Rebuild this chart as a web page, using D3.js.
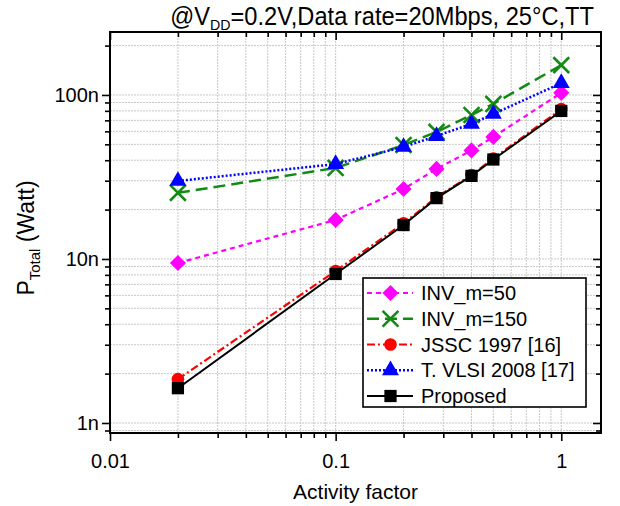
<!DOCTYPE html>
<html>
<head>
<meta charset="utf-8">
<script src="https://cdn.jsdelivr.net/npm/d3@7"></script>
<style>
body{margin:0;background:#fff;}
svg{display:block;font-family:Arial,"Liberation Sans",sans-serif;}
</style>
</head>
<body>
<svg width="620" height="506"></svg>
<script>
// activity factor (x) and total power in nW (y)
var activity = [0.02, 0.1, 0.2, 0.28, 0.4, 0.5, 1];
var inv50    = [9.45, 17.3, 26.7, 35.4, 45.9, 55.5, 103];
var inv150   = [25.3, 35.9, 49.5, 59.5, 75.5, 88.2, 152];
var jssc     = [1.85, 8.45, 16.5, 23.8, 32.5, 41, 82];
var tvlsi    = [29.9, 37.9, 48.2, 56.2, 66.6, 76.6, 118];
var proposed = [1.63, 8.1, 16.1, 23.5, 32.1, 40.4, 79.9];

var names = ["INV_m=50", "INV_m=150", "JSSC 1997 [16]", "T. VLSI 2008 [17]", "Proposed"];
var xTicks = [0.01, 0.1, 1];
var xTickLabels = ["0.01", "0.1", "1"];
var yTicks = [1, 10, 100];
var yTickLabels = ["1n", "10n", "100n"];

/* setup
-------------------------------------------------------------------------------
*/
var svg = d3.select("svg");
var mLeft = 110, mRight = 601, mTop = 32, mBottom = 433;

var x = d3.scaleLog().domain([0.01, 1.5]).range([mLeft, mRight]);
var y = d3.scaleLog().domain([0.869, 242]).range([mBottom, mTop]);

var series = [
    {name: names[0], vals: inv50,    color: "#ff00ff", dash: "5,4",        w: 2.2, mark: "diamond"},
    {name: names[1], vals: inv150,   color: "#138a13", dash: "12,6",       w: 2.5, mark: "times"},
    {name: names[2], vals: jssc,     color: "#ff0000", dash: "8,3,2,3",    w: 2.2, mark: "circle"},
    {name: names[3], vals: tvlsi,    color: "#0000ff", dash: "2,2",        w: 2.5, mark: "triangle"},
    {name: names[4], vals: proposed, color: "#000000", dash: null,         w: 2,   mark: "square"}
];

function symbolPath(m){
    if(m == "diamond") return d3.symbol(d3.symbolSquare, 130)();
    if(m == "times") return d3.symbol(d3.symbolTimes, 165)();
    if(m == "circle") return d3.symbol(d3.symbolCircle, 125)();
    if(m == "triangle") return d3.symbol(d3.symbolTriangle, 125)();
    return d3.symbol(d3.symbolSquare, 150)();
}

function drawMarker(g, s, px, py){
    var p = g.append("path")
        .attr("d", symbolPath(s.mark))
        .attr("transform", "translate(" + px + "," + py + ")" + (s.mark == "diamond" ? " rotate(45)" : ""));
    if(s.mark == "times"){
        p.attr("fill", "none").attr("stroke", s.color).attr("stroke-width", 2.6);
    } else {
        p.attr("fill", s.color);
    }
}

/* grid
-------------------------------------------------------------------------------
*/
var grid = svg.append("g");
grid.selectAll(".vg").data(x.ticks()).enter().append("line")
    .attr("x1", function(d){ return x(d); }).attr("x2", function(d){ return x(d); })
    .attr("y1", mTop).attr("y2", mBottom)
    .attr("stroke", "#c8c8c8").attr("stroke-width", 1).attr("stroke-dasharray", "2,1");
grid.selectAll(".hg").data(y.ticks()).enter().append("line")
    .attr("y1", function(d){ return y(d); }).attr("y2", function(d){ return y(d); })
    .attr("x1", mLeft).attr("x2", mRight)
    .attr("stroke", "#c8c8c8").attr("stroke-width", 1).attr("stroke-dasharray", "2,1");

/* axes
-------------------------------------------------------------------------------
*/
var xMinor = x.ticks().filter(function(d){ return xTicks.indexOf(d) < 0; });
var yMinor = y.ticks().filter(function(d){ return yTicks.indexOf(d) < 0; });

function styleAxis(g){
    g.select(".domain").remove();
    g.selectAll(".tick line").attr("stroke", "#000").attr("stroke-width", 1.6);
    g.selectAll("text").attr("font-size", 20).attr("fill", "#000").attr("font-family", null);
}

svg.append("g").attr("transform", "translate(0," + mBottom + ")")
    .call(d3.axisBottom(x).tickValues(xTicks).tickSize(8).tickPadding(13)
        .tickFormat(function(d, i){ return xTickLabels[i]; }))
    .call(styleAxis);
svg.append("g").attr("transform", "translate(0," + mBottom + ")")
    .call(d3.axisBottom(x).tickValues(xMinor).tickSize(5).tickFormat(""))
    .call(styleAxis);
// mirrored top ticks, pointing inwards
svg.append("g").attr("transform", "translate(0," + mTop + ")")
    .call(d3.axisBottom(x).tickValues(xTicks).tickSize(8).tickFormat(""))
    .call(styleAxis);
svg.append("g").attr("transform", "translate(0," + mTop + ")")
    .call(d3.axisBottom(x).tickValues(xMinor).tickSize(5).tickFormat(""))
    .call(styleAxis);

svg.append("g").attr("transform", "translate(" + mLeft + ",0)")
    .call(d3.axisLeft(y).tickValues(yTicks).tickSize(8).tickPadding(3)
        .tickFormat(function(d, i){ return yTickLabels[i]; }))
    .call(styleAxis);
svg.append("g").attr("transform", "translate(" + mLeft + ",0)")
    .call(d3.axisLeft(y).tickValues(yMinor).tickSize(5).tickFormat(""))
    .call(styleAxis);
// mirrored right ticks, pointing inwards
svg.append("g").attr("transform", "translate(" + mRight + ",0)")
    .call(d3.axisLeft(y).tickValues(yTicks).tickSize(8).tickFormat(""))
    .call(styleAxis);
svg.append("g").attr("transform", "translate(" + mRight + ",0)")
    .call(d3.axisLeft(y).tickValues(yMinor).tickSize(5).tickFormat(""))
    .call(styleAxis);

svg.append("rect")
    .attr("x", mLeft).attr("y", mTop).attr("width", mRight - mLeft).attr("height", mBottom - mTop)
    .attr("fill", "none").attr("stroke", "#000").attr("stroke-width", 2);

/* series
-------------------------------------------------------------------------------
*/
var line = d3.line()
    .x(function(d){ return x(d[0]); })
    .y(function(d){ return y(d[1]); });

series.forEach(function(s){
    var pts = activity.map(function(a, i){ return [a, s.vals[i]]; });
    svg.append("path")
        .datum(pts)
        .attr("fill", "none")
        .attr("stroke", s.color)
        .attr("stroke-width", s.w)
        .attr("stroke-dasharray", s.dash)
        .attr("d", line);
    var g = svg.append("g");
    pts.forEach(function(p){ drawMarker(g, s, x(p[0]), y(p[1])); });
});

/* legend
-------------------------------------------------------------------------------
*/
var leg = svg.append("g");
leg.append("rect")
    .attr("x", 363).attr("y", 278).attr("width", 223).attr("height", 129)
    .attr("fill", "#fff").attr("stroke", "#000").attr("stroke-width", 1.6);
series.forEach(function(s, i){
    var ly = 293 + i * 25.75;
    leg.append("line")
        .attr("x1", 367).attr("x2", 413).attr("y1", ly).attr("y2", ly)
        .attr("stroke", s.color).attr("stroke-width", s.w).attr("stroke-dasharray", s.dash);
    drawMarker(leg, s, 390.5, ly);
    leg.append("text")
        .attr("x", 421).attr("y", ly + 7)
        .attr("font-size", 20)
        .text(s.name);
});

/* titles
-------------------------------------------------------------------------------
*/
// the original title font is a bit narrow: squeeze it to span 170..594
var titleG = svg.append("g");
var title = titleG.append("text")
    .attr("x", 0).attr("y", 0)
    .attr("text-anchor", "end")
    .attr("font-size", 25);
title.append("tspan").text("@V");
title.append("tspan").attr("font-size", 15).attr("dy", 5).text("DD");
title.append("tspan").attr("dy", -5).text("=0.2V,Data rate=20Mbps, 25\u00B0C,TT");
var tw = title.node().getComputedTextLength();
titleG.attr("transform", "translate(594,25) scale(" + Math.min(1, 424 / tw) + ",1)");

svg.append("text")
    .attr("x", (mLeft + mRight) / 2).attr("y", 499)
    .attr("text-anchor", "middle")
    .attr("font-size", 21)
    .text("Activity factor");

var ylab = svg.append("text")
    .attr("transform", "translate(34,238) rotate(-90)")
    .attr("text-anchor", "middle")
    .attr("font-size", 23);
ylab.append("tspan").text("P");
ylab.append("tspan").attr("font-size", 15).attr("dy", 6).text("Total");
ylab.append("tspan").attr("dy", -6).text(" (Watt)");
</script>
</body>
</html>
